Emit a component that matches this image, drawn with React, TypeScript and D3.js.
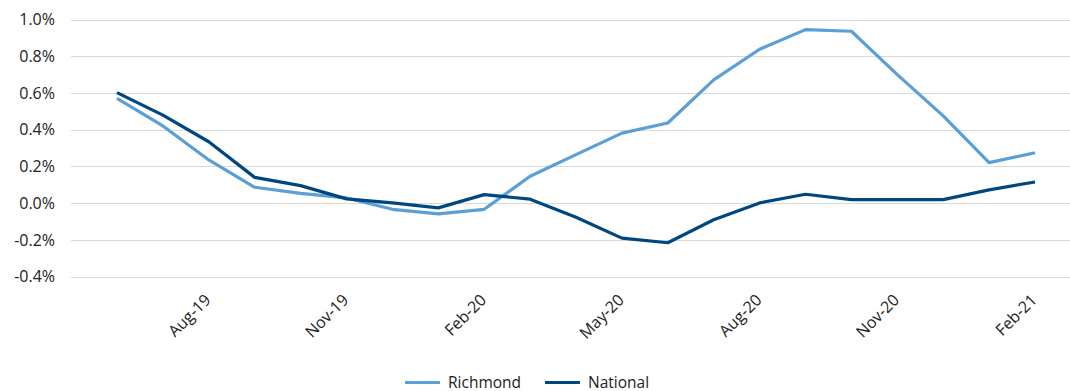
import React, { useEffect, useRef } from 'react';
import * as d3 from 'd3';

const months = [
  'Jun-19', 'Jul-19', 'Aug-19', 'Sep-19', 'Oct-19', 'Nov-19', 'Dec-19',
  'Jan-20', 'Feb-20', 'Mar-20', 'Apr-20', 'May-20', 'Jun-20', 'Jul-20',
  'Aug-20', 'Sep-20', 'Oct-20', 'Nov-20', 'Dec-20', 'Jan-21', 'Feb-21',
];
const richmond = [
  0.57, 0.42, 0.235, 0.086, 0.053, 0.028, -0.034, -0.059, -0.034, 0.146, 0.264,
  0.381, 0.436, 0.671, 0.838, 0.945, 0.936, 0.70, 0.475, 0.22, 0.274,
];
const national = [
  0.602, 0.479, 0.334, 0.14, 0.095, 0.023, 0.001, -0.026, 0.046, 0.021, -0.077,
  -0.191, -0.216, -0.091, 0.001, 0.048, 0.019, 0.019, 0.019, 0.072, 0.115,
];
const xTickLabels = ['Aug-19', 'Nov-19', 'Feb-20', 'May-20', 'Aug-20', 'Nov-20', 'Feb-21'];
const yTicks = [-0.4, -0.2, 0, 0.2, 0.4, 0.6, 0.8, 1.0];

const series = [
  { name: 'Richmond', values: richmond, color: '#5b9fd7' },
  { name: 'National', values: national, color: '#00477f' },
];

const W = 1070;
const H = 391;
const FONT = '"Open Sans", Lato, sans-serif';

export default function App() {
  const svgRef = useRef<SVGSVGElement>(null);

  useEffect(() => {
    if (!svgRef.current) return;
    const svg = d3.select(svgRef.current);
    svg.selectAll('*').remove();

    const plotLeft = 71;
    const plotRight = 1070;

    const x = d3.scaleLinear()
      .domain([0, months.length - 1])
      .range([117, 1035]);

    const y = d3.scaleLinear()
      .domain([-0.4, 1.0])
      .range([276.5, 19.5]);

    // gridlines
    svg.append('g')
      .selectAll('line')
      .data(yTicks)
      .join('line')
      .attr('x1', plotLeft)
      .attr('x2', plotRight)
      .attr('y1', d => Math.round(y(d)) + 0.5)
      .attr('y2', d => Math.round(y(d)) + 0.5)
      .attr('stroke', '#d9d9d9')
      .attr('stroke-width', 1);

    // y labels
    svg.append('g')
      .selectAll('text')
      .data(yTicks)
      .join('text')
      .attr('x', 55)
      .attr('y', d => y(d))
      .attr('dy', '0.36em')
      .attr('text-anchor', 'end')
      .attr('font-family', FONT)
      .attr('font-size', 16)
      .attr('fill', '#222')
      .text(d => `${d.toFixed(1)}%`);

    // x labels
    svg.append('g')
      .selectAll('text')
      .data(xTickLabels)
      .join('text')
      .attr('transform', d => `translate(${x(months.indexOf(d)) + 3},${301}) rotate(-45)`)
      .attr('text-anchor', 'end')
      .attr('font-family', FONT)
      .attr('font-size', 16)
      .attr('fill', '#222')
      .text(d => d);

    const line = d3.line<number>()
      .x((_, i) => x(i))
      .y(d => y(d));

    series.forEach(s => {
      svg.append('path')
        .datum(s.values)
        .attr('fill', 'none')
        .attr('stroke', s.color)
        .attr('stroke-width', 3.2)
        .attr('stroke-linejoin', 'round')
        .attr('d', line);
    });

    // legend
    const legendPos = [405, 545];
    const legend = svg.append('g');
    series.forEach((s, i) => {
      const lx = legendPos[i];
      legend.append('line')
        .attr('x1', lx)
        .attr('x2', lx + 35)
        .attr('y1', 382.5)
        .attr('y2', 382.5)
        .attr('stroke', s.color)
        .attr('stroke-width', 3.2);
      legend.append('text')
        .attr('x', lx + 43)
        .attr('y', 387.5)
        .attr('font-family', FONT)
        .attr('font-size', 15.5)
        .attr('fill', '#222')
        .text(s.name);
    });
  }, []);

  return (
    <div style={{ position: 'absolute', left: 0, top: 0 }}>
      <svg ref={svgRef} width={W} height={H} style={{ display: 'block', background: '#fff' }} />
    </div>
  );
}
